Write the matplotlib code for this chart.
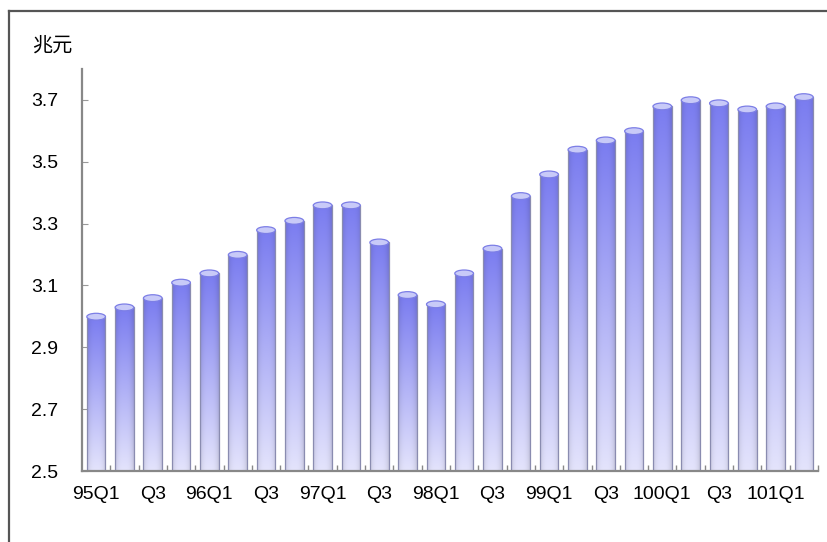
import numpy as np
import matplotlib
matplotlib.use("Agg")
import matplotlib.pyplot as plt
from matplotlib.patches import Ellipse
from matplotlib.lines import Line2D
from matplotlib.colors import to_rgb

plt.rcParams['font.family'] = ['Liberation Sans', 'Noto Sans CJK TC', 'DejaVu Sans']

# 季度 (95Q1 ~ 101Q2), 單位: 兆元
quarters = ["95Q1", "95Q2", "95Q3", "95Q4",
            "96Q1", "96Q2", "96Q3", "96Q4",
            "97Q1", "97Q2", "97Q3", "97Q4",
            "98Q1", "98Q2", "98Q3", "98Q4",
            "99Q1", "99Q2", "99Q3", "99Q4",
            "100Q1", "100Q2", "100Q3", "100Q4",
            "101Q1", "101Q2"]
values = [3.01, 3.04, 3.07, 3.12,
          3.15, 3.21, 3.29, 3.32,
          3.37, 3.37, 3.25, 3.08,
          3.05, 3.15, 3.23, 3.40,
          3.47, 3.55, 3.58, 3.61,
          3.69, 3.71, 3.70, 3.68,
          3.69, 3.72]
tick_labels = ["95Q1", "Q3", "96Q1", "Q3", "97Q1", "Q3", "98Q1", "Q3",
               "99Q1", "Q3", "100Q1", "Q3", "101Q1"]
y_ticks = [2.5, 2.7, 2.9, 3.1, 3.3, 3.5, 3.7]

ymin, ymax = 2.5, 3.8
bar_w = 0.66
cap_h = 0.022

fig = plt.figure(figsize=(8.28, 5.42), dpi=100)
ax = fig.add_axes([82 / 828, 1 - 471 / 542, 736 / 828, 402 / 542])

x = np.arange(len(values))
heights = [v - ymin - cap_h / 2 for v in values]
bars = ax.bar(x, heights, width=bar_w, bottom=ymin, color='none',
              edgecolor='#8a8cb0', linewidth=0.9, zorder=3)

# gradient: dark blue-violet at top -> pale lavender at bottom, cylinder shading
top_c = np.array(to_rgb('#7a7cf0'))
bot_c = np.array(to_rgb('#e4e4fc'))
ny, nx = 200, 40
t = np.linspace(0, 1, ny)[:, None, None]          # 0 top, 1 bottom
s = np.linspace(-1, 1, nx)[None, :, None]
base = top_c * (1 - t) + bot_c * t
shade = 1 - 0.12 * np.abs(s) ** 3
img = np.clip(base * shade, 0, 1)

for b in bars:
    x0, y0, w, h = b.get_x(), b.get_y(), b.get_width(), b.get_height()
    im = ax.imshow(img, extent=[x0, x0 + w, y0, y0 + h], aspect='auto',
                   interpolation='bilinear', zorder=2)
    im.set_clip_path(b)
    cap = Ellipse((x0 + w / 2, y0 + h), w, cap_h, facecolor='#c8caf8',
                  edgecolor='#7c7ee6', linewidth=0.9, zorder=4)
    ax.add_patch(cap)

ax.set_xlim(-0.5, len(values) - 0.5)
ax.set_ylim(ymin, ymax)

ax.set_xticks(x[::2])
ax.set_xticklabels(tick_labels)
ax.set_xticks(np.arange(len(values)) + 0.5, minor=True)
ax.tick_params(axis='x', which='major', length=0, pad=11, labelsize=14)
ax.tick_params(axis='x', which='minor', direction='in', length=4,
               color='#888888', width=1)

ax.set_yticks(y_ticks)
ax.set_yticklabels([f"{v:.1f}" for v in y_ticks])
ax.tick_params(axis='y', direction='in', length=4, color='#999999',
               width=0.8, pad=17, labelsize=14)

for side in ['top', 'right']:
    ax.spines[side].set_visible(False)
for side in ['left', 'bottom']:
    ax.spines[side].set_color('#888888')
    ax.spines[side].set_linewidth(1.6)
    ax.spines[side].set_zorder(5)

fig.text(32 / 828, 1 - 45 / 542, "兆元", fontsize=14.5, va='center', ha='left',
         family=['Noto Sans CJK TC', 'DejaVu Sans'])

# outer frame (top and left edges only)
fx, fy = 8.5 / 828, 1 - 11 / 542
fig.add_artist(Line2D([fx, 1], [fy, fy], color='#555555', lw=1.6))
fig.add_artist(Line2D([fx, fx], [0, fy], color='#555555', lw=1.6))

fig.savefig("out.png", dpi=100)
